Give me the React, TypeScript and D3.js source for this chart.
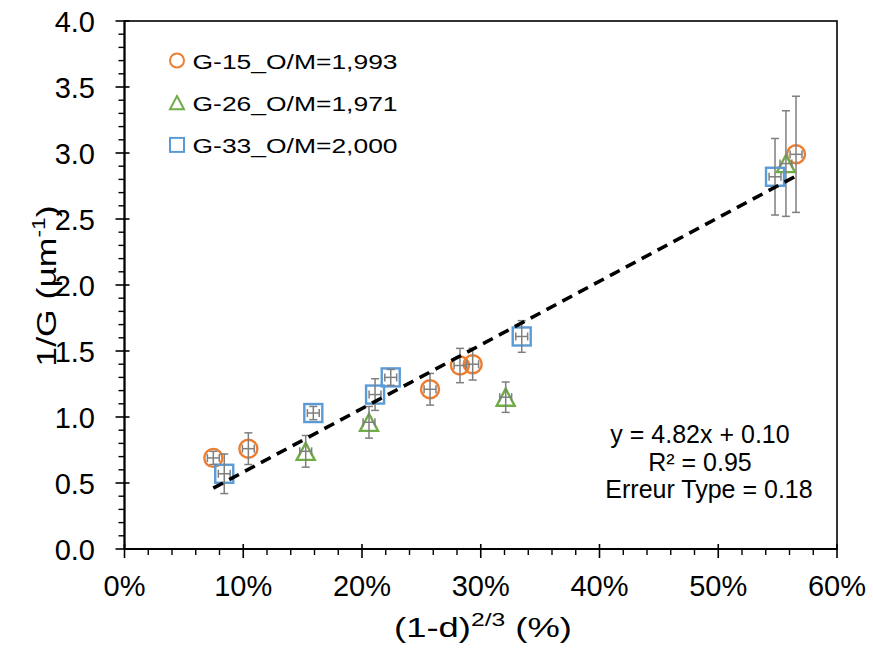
import React from "react";
import * as d3 from "d3";

// ---------- data ----------
const seriesNames = ["G-15_O/M=1,993", "G-26_O/M=1,971", "G-33_O/M=2,000"];
const seriesColors = ["#ED7D31", "#70AD47", "#5B9BD5"];
const seriesShapes = ["circle", "triangle", "square"];

const g15X = [7.48, 10.43, 25.73, 28.25, 29.32, 56.55];
const g15Y = [0.69, 0.76, 1.21, 1.39, 1.4, 2.99];
const g15YErr = [0.05, 0.12, 0.12, 0.13, 0.12, 0.44];

const g26X = [15.26, 20.59, 32.1, 55.7];
const g26Y = [0.74, 0.96, 1.15, 2.92];
const g26YErr = [0.12, 0.12, 0.115, 0.4];

const g33X = [8.4, 15.9, 21.1, 22.42, 33.45, 54.78];
const g33Y = [0.57, 1.03, 1.17, 1.3, 1.61, 2.82];
const g33YErr = [0.15, 0.05, 0.12, 0.06, 0.12, 0.29];

const xErrPct = 0.5;

const trendSlope = 4.82;
const trendIntercept = 0.1;
const trendXRange = [7.48, 56.55];

const xTickValues = [0, 10, 20, 30, 40, 50, 60];
const yTickValues = [0, 0.5, 1, 1.5, 2, 2.5, 3, 3.5, 4];

const annotationLines = ["y = 4.82x + 0.10", "R² = 0.95", "Erreur Type = 0.18"];

// ---------- layout ----------
const W = 873;
const H = 653;
const left = 124.5;
const right = 837;
const top = 21;
const bottom = 549;
const FONT = "'Liberation Sans', Arial, Helvetica, sans-serif";

const xScale = d3.scaleLinear().domain([0, 60]).range([left, right]);
const yScale = d3.scaleLinear().domain([0, 4]).range([bottom, top]);

const series = [
  { xs: g15X, ys: g15Y, es: g15YErr },
  { xs: g26X, ys: g26Y, es: g26YErr },
  { xs: g33X, ys: g33Y, es: g33YErr },
];

function Marker({ shape, cx, cy, size, color, sw }: any) {
  if (shape === "circle") {
    return <circle cx={cx} cy={cy} r={size / 2} fill="none" stroke={color} strokeWidth={sw} />;
  }
  if (shape === "square") {
    return (
      <rect x={cx - size / 2} y={cy - size / 2} width={size} height={size} fill="none" stroke={color} strokeWidth={sw} />
    );
  }
  const h = size * 0.95;
  const p = d3.path();
  p.moveTo(cx, cy - h / 2);
  p.lineTo(cx + size / 2, cy + h / 2);
  p.lineTo(cx - size / 2, cy + h / 2);
  p.closePath();
  return <path d={p.toString()} fill="none" stroke={color} strokeWidth={sw} strokeLinejoin="miter" />;
}

export default function App() {
  const minorX = d3.range(0, 61, 2).filter((v) => v % 10 !== 0);
  const minorY = d3.range(0, 41, 1).map((v) => v / 10).filter((v) => Math.round(v * 10) % 5 !== 0);

  const trendLine = d3
    .line<number>()
    .x((d) => xScale(d))
    .y((d) => yScale(trendSlope * (d / 100) + trendIntercept))(trendXRange);

  const errColor = "#7F7F7F";
  const capY = 4; // half cap width for vertical bars
  const capX = 4;

  return (
    <svg width={W} height={H} style={{ position: "absolute", left: 0, top: 0, background: "#fff" }} fontFamily={FONT}>
      <rect x={0} y={0} width={W} height={H} fill="#fff" />

      {/* markers */}
      {series.map((s, si) =>
        s.xs.map((x, i) => (
          <Marker
            key={`m${si}-${i}`}
            shape={seriesShapes[si]}
            cx={xScale(x)}
            cy={yScale(s.ys[i])}
            size={18}
            color={seriesColors[si]}
            sw={2.4}
          />
        ))
      )}

      {/* error bars */}
      {series.map((s, si) =>
        s.xs.map((x, i) => {
          const cx = xScale(x);
          const cy = yScale(s.ys[i]);
          const y1 = yScale(s.ys[i] + s.es[i]);
          const y2 = yScale(s.ys[i] - s.es[i]);
          const x1 = xScale(x - xErrPct);
          const x2 = xScale(x + xErrPct);
          return (
            <g key={`e${si}-${i}`} stroke={errColor} strokeWidth={1.5} fill="none">
              <line x1={cx} x2={cx} y1={y1} y2={y2} />
              <line x1={cx - capY} x2={cx + capY} y1={y1} y2={y1} />
              <line x1={cx - capY} x2={cx + capY} y1={y2} y2={y2} />
              <line x1={x1} x2={x2} y1={cy} y2={cy} />
              <line x1={x1} x2={x1} y1={cy - capX} y2={cy + capX} />
              <line x1={x2} x2={x2} y1={cy - capX} y2={cy + capX} />
            </g>
          );
        })
      )}

      {/* trendline */}
      <path d={trendLine || ""} fill="none" stroke="#000" strokeWidth={3.6} strokeDasharray="11 7" />

      {/* frame */}
      <rect x={left} y={top} width={right - left} height={bottom - top} fill="none" stroke="#000" strokeWidth={1.6} />
      <line x1={left} x2={right} y1={bottom} y2={bottom} stroke="#000" strokeWidth={2} />
      <line x1={left} x2={left} y1={top} y2={bottom} stroke="#000" strokeWidth={2} />

      {/* x ticks */}
      {xTickValues.map((v) => (
        <line key={`xt${v}`} x1={xScale(v)} x2={xScale(v)} y1={bottom - 5} y2={bottom + 9} stroke="#000" strokeWidth={1.6} />
      ))}
      {minorX.map((v) => (
        <line key={`xm${v}`} x1={xScale(v)} x2={xScale(v)} y1={bottom} y2={bottom + 6} stroke="#000" strokeWidth={1.4} />
      ))}
      {/* y ticks */}
      {yTickValues.map((v) => (
        <line key={`yt${v}`} x1={left - 9} x2={left + 5} y1={yScale(v)} y2={yScale(v)} stroke="#000" strokeWidth={1.6} />
      ))}
      {minorY.map((v) => (
        <line key={`ym${v}`} x1={left - 6} x2={left} y1={yScale(v)} y2={yScale(v)} stroke="#000" strokeWidth={1.4} />
      ))}

      {/* tick labels */}
      {xTickValues.map((v) => (
        <text key={`xl${v}`} x={xScale(v)} y={596} textAnchor="middle" fontSize={29} fill="#000">
          {d3.format(".0%")(v / 100)}
        </text>
      ))}
      {yTickValues.map((v) => (
        <text key={`yl${v}`} x={95} y={yScale(v) + 10.5} textAnchor="end" fontSize={29} fill="#000">
          {d3.format(".1f")(v)}
        </text>
      ))}

      {/* axis titles */}
      <text transform={`translate(483,637) scale(1.3,1)`} textAnchor="middle" fontSize={28} fill="#000">
        (1-d)
        <tspan fontSize={19} dy={-11}>2/3</tspan>
        <tspan dy={11}> (%)</tspan>
      </text>
      <text transform={`translate(56,286) rotate(-90) scale(1.27,1)`} textAnchor="middle" fontSize={28} fill="#000">
        1/G (µm
        <tspan fontSize={18} dy={-11}>-1</tspan>
        <tspan dy={11}>)</tspan>
      </text>

      {/* legend */}
      {seriesNames.map((name, i) => {
        const cy = 60.5 + i * 42.2;
        return (
          <g key={`lg${i}`}>
            <Marker shape={seriesShapes[i]} cx={177} cy={cy} size={14} color={seriesColors[i]} sw={2} />
            <text transform={`translate(192.5,${cy + 8.3}) scale(1.26,1)`} fontSize={21} fill="#000">
              {name}
            </text>
          </g>
        );
      })}

      {/* annotation */}
      {annotationLines.map((t, i) => (
        <text
          key={`an${i}`}
          x={[700, 700, 709][i]}
          y={[443, 471, 497.5][i]}
          textAnchor="middle"
          fontSize={25}
          fill="#000"
        >
          {t}
        </text>
      ))}
    </svg>
  );
}
